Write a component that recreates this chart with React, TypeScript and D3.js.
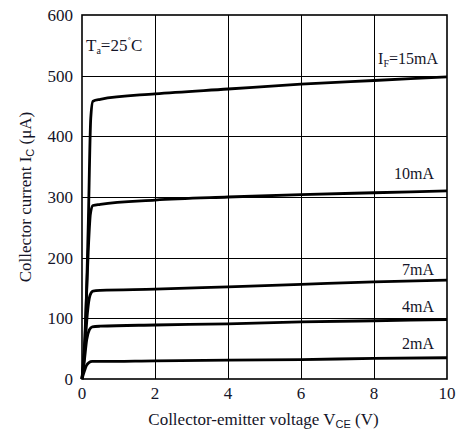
import React from 'react';
import * as d3 from 'd3';

// VCE (V) vs IC (uA), one array per IF
const vce15 = [0, 0.08, 0.17, 0.24, 0.3, 0.5, 2, 4, 6, 8, 10];
const ic15 = [0, 60, 250, 430, 458, 461, 470, 478, 486, 492, 498];
const vce10 = [0, 0.08, 0.17, 0.23, 0.3, 0.5, 2, 4, 6, 8, 10];
const ic10 = [0, 70, 210, 272, 286, 288, 295, 300, 304, 307, 310];
const vce7 = [0, 0.07, 0.15, 0.22, 0.3, 0.5, 2, 4, 6, 8, 10];
const ic7 = [0, 45, 110, 138, 145, 146, 148, 152, 156, 160, 163];
const vce4 = [0, 0.06, 0.13, 0.2, 0.28, 0.5, 2, 4, 6, 8, 10];
const ic4 = [0, 28, 65, 81, 86, 87, 89, 91, 94, 96, 98];
const vce2 = [0, 0.05, 0.12, 0.19, 0.28, 0.5, 2, 4, 6, 8, 10];
const ic2 = [0, 10, 22, 27, 29, 29, 30, 31, 32, 34, 35];

const xTicks = [0, 2, 4, 6, 8, 10];
const yTicks = [0, 100, 200, 300, 400, 500, 600];

// label, baseline IC position (uA) for the curve tags at the right
const curveLabels = ['15mA', '10mA', '7mA', '4mA', '2mA'];
const labelIc = [520, 330, 172, 111, 50];

const series = [
  { v: vce15, i: ic15 },
  { v: vce10, i: ic10 },
  { v: vce7, i: ic7 },
  { v: vce4, i: ic4 },
  { v: vce2, i: ic2 },
];

const W = 463;
const H = 430;
const left = 82;
const right = 447;
const top = 15;
const bottom = 379;
const font = '"Liberation Serif", "Times New Roman", serif';
const sans = '"Liberation Sans", Arial, sans-serif';
const ink = '#141428';

const crisp = (v: number) => Math.round(v) + 0.5;

export default function App() {
  const x = d3.scaleLinear().domain([0, 10]).range([left, right]);
  const y = d3.scaleLinear().domain([0, 600]).range([bottom, top]);

  const line = d3
    .line<[number, number]>()
    .x(d => x(d[0]))
    .y(d => y(d[1]))
    .curve(d3.curveMonotoneX);

  return (
    <svg
      width={W}
      height={H}
      style={{ position: 'absolute', left: 0, top: 0, background: '#fff' }}
    >
      {/* grid */}
      {xTicks.slice(1, -1).map(t => (
        <line key={'gx' + t} x1={crisp(x(t))} x2={crisp(x(t))} y1={top} y2={bottom} stroke="#000" strokeWidth={1} />
      ))}
      {yTicks.slice(1, -1).map(t => (
        <line key={'gy' + t} x1={left} x2={right} y1={crisp(y(t))} y2={crisp(y(t))} stroke="#000" strokeWidth={1} />
      ))}
      <rect x={left} y={top} width={right - left} height={bottom - top} fill="none" stroke="#000" strokeWidth={1.6} />

      {/* curves */}
      {series.map((s, k) => (
        <path
          key={'c' + k}
          d={line(s.v.map((v, j) => [v, s.i[j]] as [number, number])) || ''}
          fill="none"
          stroke="#000"
          strokeWidth={2.8}
          strokeLinejoin="round"
        />
      ))}

      {/* tick labels */}
      {yTicks.map(t => (
        <text key={'ty' + t} x={left - 9} y={y(t) + 6} textAnchor="end" fontFamily={font} fontSize={17} fill={ink}>
          {t}
        </text>
      ))}
      {xTicks.map(t => (
        <text key={'tx' + t} x={x(t)} y={bottom + 20} textAnchor="middle" fontFamily={font} fontSize={17} fill={ink}>
          {t}
        </text>
      ))}

      {/* curve labels */}
      {curveLabels.map((lab, k) =>
        k === 0 ? (
          <text key={lab} x={right - 9} y={y(labelIc[k])} textAnchor="end" fontFamily={font} fontSize={16} fill={ink}>
            I<tspan fontSize={10} dy={3}>F</tspan>
            <tspan dy={-3}>={lab}</tspan>
          </text>
        ) : (
          <text key={lab} x={right - 13} y={y(labelIc[k])} textAnchor="end" fontFamily={font} fontSize={16} fill={ink}>
            {lab}
          </text>
        )
      )}

      {/* ambient temperature */}
      <text x={86} y={51} fontFamily={font} fontSize={17} fill={ink}>
        T<tspan fontSize={10} dy={3}>a</tspan>
        <tspan dy={-3}>=25</tspan>
        <tspan fontSize={11} dy={-6}>˚</tspan>
        <tspan dy={6}>C</tspan>
      </text>

      {/* axis titles */}
      <text x={(left + right) / 2 - 1} y={425} textAnchor="middle" fontFamily={font} fontSize={17} fill={ink}>
        Collector-emitter voltage V<tspan fontFamily={sans} fontSize={11} dy={3}>CE</tspan>
        <tspan dy={-3}> (V)</tspan>
      </text>
      <text
        transform={`translate(31, ${(top + bottom) / 2}) rotate(-90)`}
        textAnchor="middle"
        fontFamily={font}
        fontSize={17}
        fill={ink}
      >
        Collector current I<tspan fontFamily={sans} fontSize={11} dy={3}>C</tspan>
        <tspan dy={-3}> (μA)</tspan>
      </text>
    </svg>
  );
}
